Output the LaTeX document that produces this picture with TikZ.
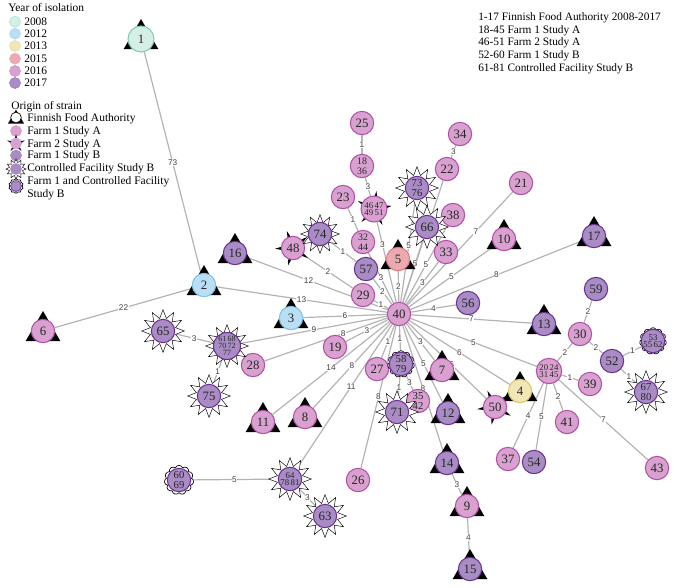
\documentclass[tikz,border=0pt]{standalone}
\usepackage{fontspec}
\setmainfont{Liberation Serif}
\setsansfont{Liberation Sans}
\usetikzlibrary{shapes.geometric,shapes.symbols}
\definecolor{fillA}{HTML}{D5EEE6}\definecolor{drawA}{HTML}{7FCBB4}
\definecolor{fillB}{HTML}{BADFF4}\definecolor{drawB}{HTML}{7CC3EA}
\definecolor{fillC}{HTML}{F0E6B6}\definecolor{drawC}{HTML}{DCC768}
\definecolor{fillD}{HTML}{EBAAB0}\definecolor{drawD}{HTML}{DF7C88}
\definecolor{fillE}{HTML}{D8A1CF}\definecolor{drawE}{HTML}{B24FA6}
\definecolor{fillF}{HTML}{A98CC4}\definecolor{drawF}{HTML}{683292}
\definecolor{edgegrey}{HTML}{B4B4B4}
\pgfdeclarelayer{edges}
\pgfsetlayers{edges,main}
\tikzset{
  mststrain/.style={circle, line width=0.8pt, minimum size=17.5pt, inner sep=0pt,
    font=\fontsize{9.6}{9.6}\selectfont, text=black!85},
  mstmulti/.style={mststrain, font=\fontsize{6.6}{5.8}\selectfont, align=center},
  yr08/.style={fill=fillA, draw=drawA},
  yr12/.style={fill=fillB, draw=drawB},
  yr13/.style={fill=fillC, draw=drawC},
  yr15/.style={fill=fillD, draw=drawD},
  yr16/.style={fill=fillE, draw=drawE},
  yr17/.style={fill=fillF, draw=drawF},
  mstffa/.style={regular polygon, regular polygon sides=3, fill=black, minimum size=30pt, inner sep=0pt},
  mstcf/.style={star, star points=12, star point ratio=1.65, draw=black, fill=white,
    line width=0.35pt, minimum size=32pt, inner sep=0pt},
  mstboth/.style={cloud, cloud puffs=11, cloud puff arc=140, aspect=1, draw=black, fill=white,
    line width=0.5pt, minimum width=20pt, minimum height=20pt, inner sep=0pt},
  mstfarmtwo/.style={star, star points=5, star point ratio=3.2, fill=black, minimum size=27pt, inner sep=0pt},
  mstedge/.style={draw=edgegrey, line width=0.9pt},
  mstlabel/.style={font=\sffamily\fontsize{6.2}{6.2}\selectfont, text=black!75, fill=white, inner sep=0.4pt},
  mstlegend/.style={anchor=west, font=\fontsize{8.6}{9.4}\selectfont, inner sep=0pt, align=left},
  mstkey/.style={circle, line width=0.5pt, minimum size=8.25pt, inner sep=0pt}
}
\begin{document}
\begin{tikzpicture}[x=0.75pt,y=-0.75pt]
  \useasboundingbox (0,0) rectangle (685,587);
  % legend: year of isolation
  \node[mstlegend] (yrtitle) at (8,8) {Year of isolation};
  \node[mstkey,yr08,draw=drawA!60] (k08) at (15,21.7) {};
  \node[mstkey,yr12,draw=drawB!60] (k12) at (15,33.7) {};
  \node[mstkey,yr13,draw=drawC!60] (k13) at (15,46) {};
  \node[mstkey,yr15,draw=drawD!60] (k15) at (15,58.7) {};
  \node[mstkey,yr16,draw=drawE!60] (k16) at (15,71) {};
  \node[mstkey,yr17,draw=drawF!60] (k17) at (15,83) {};
  \node[mstlegend] (l08) at (24,21.7) {2008};
  \node[mstlegend] (l12) at (24,33.7) {2012};
  \node[mstlegend] (l13) at (24,46) {2013};
  \node[mstlegend] (l15) at (24,58.7) {2015};
  \node[mstlegend] (l16) at (24,71) {2016};
  \node[mstlegend] (l17) at (24,83) {2017};
  % legend: origin of strain
  \node[mstffa,minimum size=14pt] (kffat) at (16,119) {};
  \node[mstkey,fill=white,draw=black,minimum size=8pt] (kffa) at (16,117.5) {};
  \node[mstlegend] (orgtitle) at (11,107) {Origin of strain};
  \node[mstkey,yr16,draw=fillE] (kfa) at (16,131) {};
  \node[mstfarmtwo,minimum size=14pt] (kfbs) at (16,143.5) {};
  \node[mstkey,yr16,draw=fillE] (kfb) at (16,143.5) {};
  \node[mstkey,yr17,draw=fillF] (kfc) at (16,155.5) {};
  \node[mstcf,minimum size=15pt,star point ratio=1.5] (kcfs) at (16,169) {};
  \node[mstkey,yr17,draw=fillF] (kcf) at (16,169) {};
  \node[mstboth,minimum width=11pt,minimum height=11pt,cloud puffs=10] (kbts) at (16,186) {};
  \node[mstkey,yr17] (kbt) at (16,186) {};
  \node[mstlegend] (lffa) at (27,119) {Finnish Food Authority};
  \node[mstlegend] (lfa) at (27,132) {Farm 1 Study A};
  \node[mstlegend] (lfb) at (27,145) {Farm 2 Study A};
  \node[mstlegend] (lfc) at (27,156) {Farm 1 Study B};
  \node[mstlegend] (lcf) at (27,169) {Controlled Facility Study B};
  \node[mstlegend] (lbt) at (27,188) {Farm 1 and Controlled Facility\\Study B};
  \node[mstlegend,anchor=north west,font=\fontsize{8.5}{9.5}\selectfont] (idtext) at (478,12.5)
    {1-17 Finnish Food Authority 2008-2017\\18-45 Farm 1 Study A\\46-51 Farm 2 Study A\\52-60 Farm 1 Study B\\61-81 Controlled Facility Study B};

  % Finnish Food Authority strains
  \node[mstffa] (t1) at (141,39) {};   \node[mststrain,yr08,minimum size=19.5pt] (n1) at (141,39) {1};
  \node[mstffa] (t2) at (204,285) {};  \node[mststrain,yr12] (n2) at (204,285) {2};
  \node[mstffa] (t3) at (291,318) {};  \node[mststrain,yr12] (n3) at (291,318) {3};
  \node[mstffa] (t4) at (520,391) {};  \node[mststrain,yr13] (n4) at (520,391) {4};
  \node[mstffa] (t5) at (398,259) {};  \node[mststrain,yr15] (n5) at (398,259) {5};
  \node[mstffa] (t6) at (43,331) {};   \node[mststrain,yr16] (n6) at (43,331) {6};
  \node[mstffa] (t7) at (442,370) {};  \node[mststrain,yr16] (n7) at (442,370) {7};
  \node[mstffa] (t8) at (305,417) {};  \node[mststrain,yr16] (n8) at (305,417) {8};
  \node[mstffa] (t9) at (467,506) {};  \node[mststrain,yr16] (n9) at (467,506) {9};
  \node[mstffa] (t10) at (504,239) {}; \node[mststrain,yr16] (n10) at (504,239) {10};
  \node[mstffa] (t11) at (263,422) {}; \node[mststrain,yr16] (n11) at (263,422) {11};
  \node[mstffa] (t12) at (448,413) {}; \node[mststrain,yr17] (n12) at (448,413) {12};
  \node[mstffa] (t13) at (544,324) {}; \node[mststrain,yr17] (n13) at (544,324) {13};
  \node[mstffa] (t14) at (447,463) {}; \node[mststrain,yr17] (n14) at (447,463) {14};
  \node[mstffa] (t15) at (470,569) {}; \node[mststrain,yr17] (n15) at (470,569) {15};
  \node[mstffa] (t16) at (235,253) {}; \node[mststrain,yr17] (n16) at (235,253) {16};
  \node[mstffa] (t17) at (594,236) {}; \node[mststrain,yr17] (n17) at (594,236) {17};

  % Farm 1 Study A
  \node[mstmulti,yr16,font=\fontsize{7.4}{6.6}\selectfont] (n18) at (362,166) {18\\[1pt]36};
  \node[mststrain,yr16] (n19) at (335,347) {19};
  \node[mstmulti,yr16,minimum size=19pt] (n20) at (549,371) {20\,24\\31\,45};
  \node[mststrain,yr16] (n21) at (521,183) {21};
  \node[mststrain,yr16] (n22) at (447,169) {22};
  \node[mststrain,yr16] (n23) at (343,197) {23};
  \node[mststrain,yr16] (n25) at (362,123) {25};
  \node[mststrain,yr16] (n26) at (358,480) {26};
  \node[mststrain,yr16] (n27) at (377,369) {27};
  \node[mststrain,yr16] (n28) at (253,365) {28};
  \node[mststrain,yr16] (n29) at (363,295) {29};
  \node[mststrain,yr16] (n30) at (580,334) {30};
  \node[mstmulti,yr16,font=\fontsize{7.4}{6.6}\selectfont] (n32) at (363,242) {32\\[1pt]44};
  \node[mststrain,yr16] (n33) at (446,252) {33};
  \node[mststrain,yr16] (n34) at (460,134) {34};
  \node[mstmulti,yr16,font=\fontsize{8}{7}\selectfont] (n35) at (418,401) {35\\42};
  \node[mststrain,yr16] (n37) at (508,459) {37};
  \node[mststrain,yr16] (n38) at (453,215) {38};
  \node[mststrain,yr16] (n39) at (590,384) {39};
  \node[mststrain,yr16] (n40) at (399,314) {40};
  \node[mststrain,yr16] (n41) at (567,422) {41};
  \node[mststrain,yr16] (n43) at (657,468) {43};

  % Farm 2 Study A
  \node[mstfarmtwo,shape border rotate=-8] (s46) at (374,209) {};
  \node[mstmulti,yr16,minimum size=19.5pt] (n46) at (374,209) {46\,47\\49\,51};
  \node[mstfarmtwo,shape border rotate=20] (s48) at (293,248) {};
  \node[mststrain,yr16] (n48) at (293,248) {48};
  \node[mstfarmtwo,shape border rotate=25] (s50) at (495,407) {};
  \node[mststrain,yr16] (n50) at (495,407) {50};

  % Farm 1 Study B
  \node[mststrain,yr17] (n52) at (612,361) {52};
  \node[mststrain,yr17] (n54) at (534,462) {54};
  \node[mststrain,yr17] (n56) at (468,303) {56};
  \node[mststrain,yr17] (n57) at (366,269) {57};
  \node[mststrain,yr17] (n59) at (596,289) {59};

  % Farm 1 and Controlled Facility Study B
  \node[mstboth] (c53) at (653,341) {};
  \node[mstmulti,yr17] (n53) at (653,341) {53\\55\,62};
  \node[mstboth] (c58) at (401,364) {};
  \node[mstmulti,yr17,font=\fontsize{8}{7}\selectfont] (n58) at (401,364) {58\\79};
  \node[mstboth,minimum width=22pt,minimum height=22pt] (c60) at (179,480) {};
  \node[mstmulti,yr17,font=\fontsize{8}{7}\selectfont] (n60) at (179,480) {60\\69};

  % Controlled Facility Study B
  \node[mstcf] (s61) at (227,346) {};
  \node[mstmulti,yr17,minimum size=20.25pt,font=\fontsize{6}{5.4}\selectfont] (n61) at (227,346) {61\,68\\70\,72\\77};
  \node[mstcf] (s63) at (325,516) {};  \node[mststrain,yr17] (n63) at (325,516) {63};
  \node[mstcf] (s64) at (290,479) {};  \node[mstmulti,yr17] (n64) at (290,479) {64\\78\,81};
  \node[mstcf] (s65) at (163,331) {};  \node[mststrain,yr17] (n65) at (163,331) {65};
  \node[mstcf] (s66) at (427,227) {};  \node[mststrain,yr17] (n66) at (427,227) {66};
  \node[mstcf] (s67) at (646,392) {};  \node[mstmulti,yr17,font=\fontsize{8}{7}\selectfont] (n67) at (646,392) {67\\80};
  \node[mstcf] (s71) at (397,412) {};  \node[mststrain,yr17] (n71) at (397,412) {71};
  \node[mstcf] (s73) at (417,188) {};  \node[mstmulti,yr17,font=\fontsize{8}{7}\selectfont] (n73) at (417,188) {73\\76};
  \node[mstcf,minimum size=29pt] (s74) at (320,234) {}; \node[mststrain,yr17] (n74) at (320,234) {74};
  \node[mstcf] (s75) at (209,396) {};  \node[mststrain,yr17] (n75) at (209,396) {75};

  \begin{pgfonlayer}{edges}
  \draw[mstedge] (n2) -- node[mstlabel] {73} (n1);
  \draw[mstedge] (n2) -- node[mstlabel] {22} (n6);
  \draw[mstedge] (n40) -- node[mstlabel] {13} (n2);
  \draw[mstedge] (n40) -- node[mstlabel,pos=.56] {12} (n16);
  \draw[mstedge] (n40) -- node[mstlabel] {6} (n3);
  \draw[mstedge] (n40) -- node[mstlabel] {9} (n61);
  \draw[mstedge] (n40) -- node[mstlabel,pos=.36] {8} (n28);
  \draw[mstedge] (n40) -- node[mstlabel] {3} (n19);
  \draw[mstedge] (n40) -- node[mstlabel] {14} (n11);
  \draw[mstedge] (n40) -- node[mstlabel] {8} (n8);
  \draw[mstedge] (n40) -- node[mstlabel,pos=.43] {11} (n64);
  \draw[mstedge] (n40) -- node[mstlabel] {8} (n26);
  \draw[mstedge] (n40) -- node[mstlabel] {1} (n27);
  \draw[mstedge] (n40) -- node[mstlabel] {1} (n58);
  \draw[mstedge] (n58) -- node[mstlabel] {1} (n71);
  \draw[mstedge] (n58) -- node[mstlabel] {3} (n35);
  \draw[mstedge] (n40) -- node[mstlabel] {1} (n29);
  \draw[mstedge] (n40) -- node[mstlabel] {2} (n57);
  \draw[mstedge] (n40) -- node[mstlabel] {3} (n32);
  \draw[mstedge] (n40) -- node[mstlabel,pos=.72] {3} (n46);
  \draw[mstedge] (n46) -- node[mstlabel] {3} (n18);
  \draw[mstedge] (n18) -- node[mstlabel] {1} (n25);
  \draw[mstedge] (n32) -- node[mstlabel] {1} (n23);
  \draw[mstedge] (n57) -- node[mstlabel] {1} (n74);
  \draw[mstedge] (n29) -- node[mstlabel] {2} (n48);
  \draw[mstedge] (n40) -- node[mstlabel] {2} (n5);
  \draw[mstedge] (n40) -- node[mstlabel,pos=.55] {5} (n73);
  \draw[mstedge] (n40) -- node[mstlabel,pos=.6] {5} (n66);
  \draw[mstedge] (n40) -- node[mstlabel] {5} (n38);
  \draw[mstedge] (n40) -- node[mstlabel] {3} (n33);
  \draw[mstedge] (n40) -- (n22);
  \draw[mstedge] (n22) -- node[mstlabel] {3} (n34);
  \draw[mstedge] (n40) -- node[mstlabel,pos=.65] {7} (n21);
  \draw[mstedge] (n40) -- node[mstlabel] {5} (n10);
  \draw[mstedge] (n40) -- node[mstlabel] {8} (n17);
  \draw[mstedge] (n40) -- node[mstlabel] {4} (n56);
  \draw[mstedge] (n40) -- node[mstlabel] {7} (n13);
  \draw[mstedge] (n40) -- node[mstlabel] {5} (n20);
  \draw[mstedge] (n40) -- node[mstlabel] {6} (n4);
  \draw[mstedge] (n40) -- node[mstlabel,pos=.56] {6} (n50);
  \draw[mstedge] (n40) -- node[mstlabel] {3} (n7);
  \draw[mstedge] (n40) -- node[mstlabel] {5} (n12);
  \draw[mstedge] (n40) -- node[mstlabel] {8} (n14);
  \draw[mstedge] (n14) -- node[mstlabel] {3} (n9);
  \draw[mstedge] (n9) -- node[mstlabel] {4} (n15);
  \draw[mstedge] (n30) -- node[mstlabel] {2} (n20);
  \draw[mstedge] (n30) -- node[mstlabel] {2} (n59);
  \draw[mstedge] (n30) -- node[mstlabel] {2} (n52);
  \draw[mstedge] (n52) -- node[mstlabel] {1} (n53);
  \draw[mstedge] (n52) -- node[mstlabel] {1} (n67);
  \draw[mstedge] (n20) -- node[mstlabel] {1} (n39);
  \draw[mstedge] (n20) -- node[mstlabel] {2} (n41);
  \draw[mstedge] (n20) -- node[mstlabel] {4} (n37);
  \draw[mstedge] (n20) -- node[mstlabel] {5} (n54);
  \draw[mstedge] (n20) -- node[mstlabel] {7} (n43);
  \draw[mstedge] (n64) -- node[mstlabel] {5} (n60);
  \draw[mstedge] (n64) -- node[mstlabel] {3} (n63);
  \draw[mstedge] (n61) -- node[mstlabel] {3} (n65);
  \draw[mstedge] (n61) -- node[mstlabel] {1} (n75);
  \end{pgfonlayer}
\end{tikzpicture}
\end{document}
